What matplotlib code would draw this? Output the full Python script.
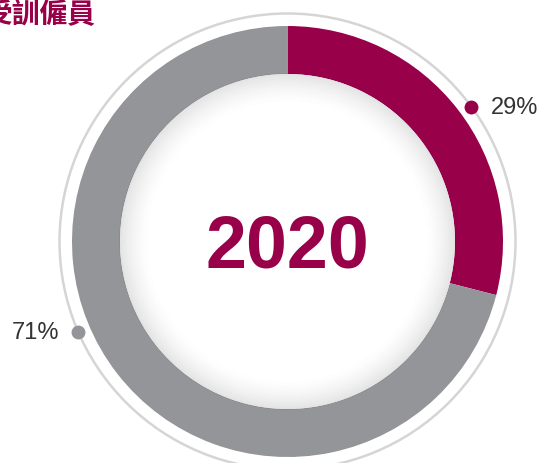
import matplotlib
matplotlib.use("Agg")
import matplotlib.pyplot as plt
from matplotlib.patches import Circle
import numpy as np

labels = ["29%", "71%"]
values = [29, 71]
colors = ["#99004A", "#939598"]
year = "2020"
title = "受訓僱員"

W, H = 541, 464
fig = plt.figure(figsize=(W / 100, H / 100), dpi=100)
ax = fig.add_axes([0, 0, 1, 1])

cx, cy = 287.5, H - 242.5
R_out, R_in, R_ring = 215.5, 167.5, 228

# thin outer ring
ax.add_patch(Circle((cx, cy), R_ring, fill=False, ec="#D5D5D5", lw=1.8, zorder=1))

ax.pie(values, colors=colors, startangle=90, counterclock=False,
       center=(cx, cy), radius=R_out, frame=True,
       wedgeprops=dict(width=R_out - R_in, linewidth=0), normalize=True)
ax.set_xlim(0, W)
ax.set_ylim(0, H)
ax.set_aspect("equal")
ax.axis("off")

# inner white disc with inner shadow
ax.add_patch(Circle((cx, cy), R_in, color="white", lw=0, zorder=3))
n = 30
for i in range(n):
    r = R_in - i * 1.0
    a = 0.065 * (1 - i / n) ** 1.5
    ax.add_patch(Circle((cx, cy), r, fill=False, ec="black", lw=1.2, alpha=a, zorder=4))

ax.text(cx - 0.5, H - 268, year, ha="center", va="baseline", fontsize=53, fontweight="bold",
        color="#99004A", family="Liberation Sans", zorder=5)

# label dots
ang1 = np.deg2rad(90 - 53.7)
ang2 = np.deg2rad(90 - 246.7)
for ang, lab, col, side in [(ang1, labels[0], colors[0], "left"), (ang2, labels[1], colors[1], "right")]:
    x = cx + R_ring * np.cos(ang)
    y = cy + R_ring * np.sin(ang)
    ax.plot([x], [y], "o", ms=10, color=col, mec="none", zorder=6)
    dx = 20 if side == "left" else -19
    ax.text(x + dx, y, lab, ha=side, va="center", fontsize=17, color="#333333",
            family="Liberation Sans", zorder=6)

ax.text(-15, H - 15, title, ha="left", va="center", fontsize=20, fontweight="bold",
        color="#99004A", family=["Noto Sans CJK TC", "DejaVu Sans"], zorder=6)

fig.savefig("out.png", dpi=100)
